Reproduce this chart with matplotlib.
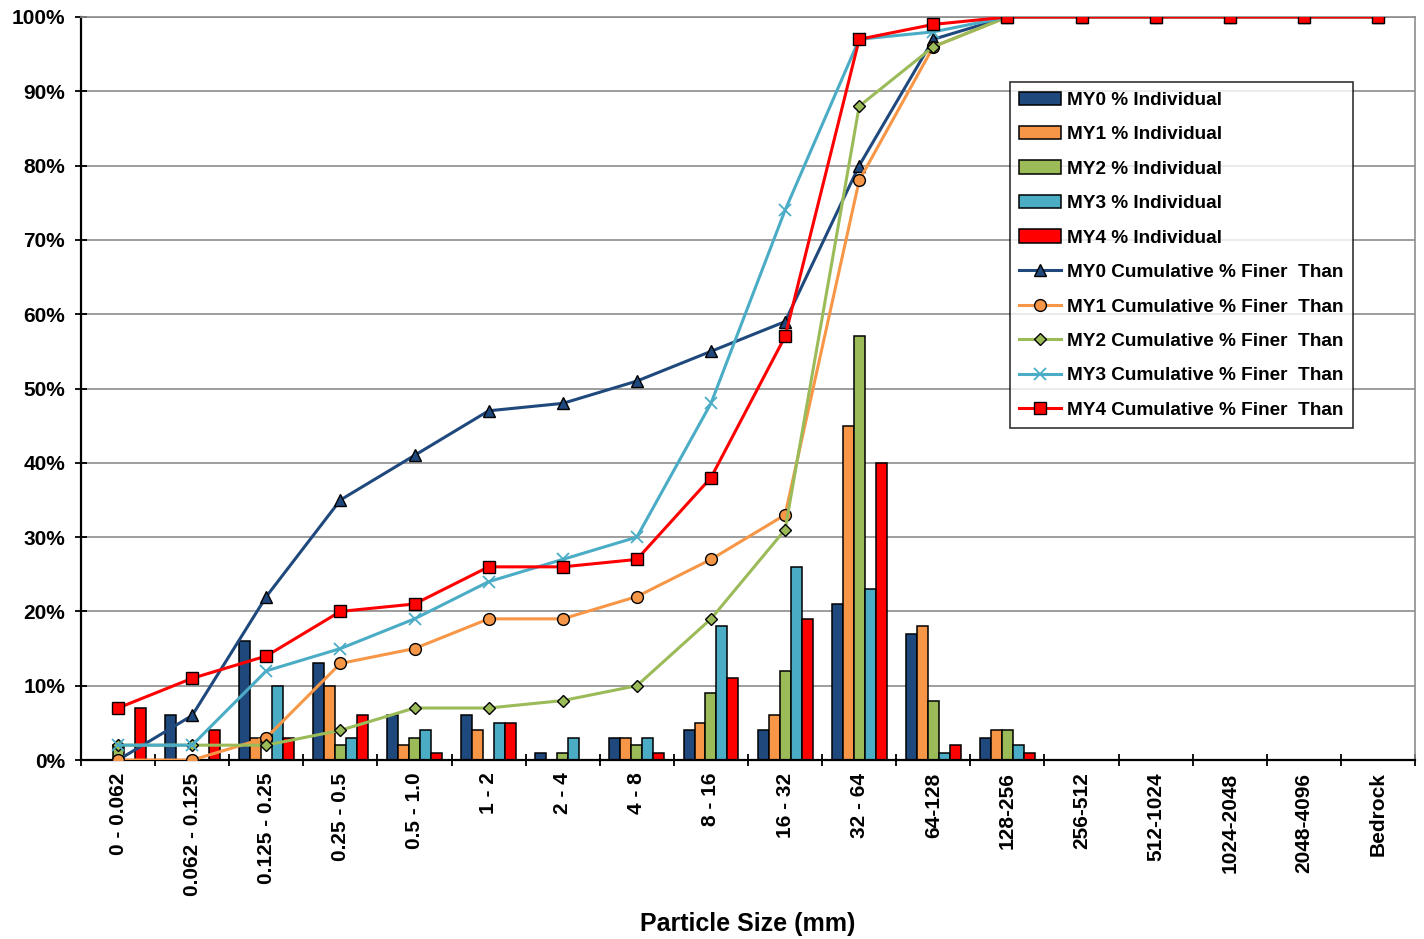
import matplotlib
matplotlib.use("Agg")
import matplotlib.pyplot as plt
import numpy as np
from matplotlib.ticker import FuncFormatter

plt.rcParams['font.family'] = ['Liberation Sans', 'DejaVu Sans']
plt.rcParams['font.weight'] = 'bold'

sizes = ["0 - 0.062", "0.062 - 0.125", "0.125 - 0.25", "0.25 - 0.5", "0.5 - 1.0",
         "1 - 2", "2 - 4", "4 - 8", "8 - 16", "16 - 32", "32 - 64", "64-128",
         "128-256", "256-512", "512-1024", "1024-2048", "2048-4096", "Bedrock"]

# % individual per size class
my0_ind = [0, 6, 16, 13, 6, 6, 1, 3, 4, 4, 21, 17, 3, 0, 0, 0, 0, 0]
my1_ind = [0, 0, 3, 10, 2, 4, 0, 3, 5, 6, 45, 18, 4, 0, 0, 0, 0, 0]
my2_ind = [2, 0, 0, 2, 3, 0, 1, 2, 9, 12, 57, 8, 4, 0, 0, 0, 0, 0]
my3_ind = [0, 0, 10, 3, 4, 5, 3, 3, 18, 26, 23, 1, 2, 0, 0, 0, 0, 0]
my4_ind = [7, 4, 3, 6, 1, 5, 0, 1, 11, 19, 40, 2, 1, 0, 0, 0, 0, 0]

# cumulative % finer than
my0_cum = [0, 6, 22, 35, 41, 47, 48, 51, 55, 59, 80, 97, 100, 100, 100, 100, 100, 100]
my1_cum = [0, 0, 3, 13, 15, 19, 19, 22, 27, 33, 78, 96, 100, 100, 100, 100, 100, 100]
my2_cum = [2, 2, 2, 4, 7, 7, 8, 10, 19, 31, 88, 96, 100, 100, 100, 100, 100, 100]
my3_cum = [2, 2, 12, 15, 19, 24, 27, 30, 48, 74, 97, 98, 100, 100, 100, 100, 100, 100]
my4_cum = [7, 11, 14, 20, 21, 26, 26, 27, 38, 57, 97, 99, 100, 100, 100, 100, 100, 100]

names = ["MY0", "MY1", "MY2", "MY3", "MY4"]
colors = ["#1F497D", "#F79646", "#9BBB59", "#4BACC6", "#FF0000"]
individual = [my0_ind, my1_ind, my2_ind, my3_ind, my4_ind]
cumulative = [my0_cum, my1_cum, my2_cum, my3_cum, my4_cum]
markers = [
    dict(marker="^", ms=9, mec="black", mew=1),
    dict(marker="o", ms=8.5, mec="black", mew=1),
    dict(marker="D", ms=6, mec="black", mew=1),
    dict(marker="x", ms=8, mew=1.3),
    dict(marker="s", ms=8, mec="black", mew=1),
]

fig = plt.figure(figsize=(14.24, 9.39), dpi=100)
ax = fig.add_subplot(111)
fig.subplots_adjust(left=0.0569, right=0.9937, top=0.9819, bottom=0.1906)

x = np.arange(len(sizes))
w = 0.148
handles = []
for i in range(5):
    b = ax.bar(x + (i - 2) * w, individual[i], w, color=colors[i], edgecolor="black",
               linewidth=1.1, label=names[i] + " % Individual", zorder=2)
    handles.append(b)

for i in range(5):
    ln, = ax.plot(x, cumulative[i], color=colors[i], lw=2.2, zorder=3,
                  label=names[i] + " Cumulative % Finer  Than", **markers[i])
    handles.append(ln)

ax.set_xlim(-0.5, len(sizes) - 0.5)
ax.set_ylim(0, 100)
ax.set_yticks(np.arange(0, 101, 10))
ax.yaxis.set_major_formatter(FuncFormatter(lambda v, p: "%d%%" % v))
ax.yaxis.grid(True, color="#8C8C8C", lw=1.2, zorder=0)
ax.set_axisbelow(True)

ax.set_xticks(x)
ax.set_xticklabels(sizes, rotation=90, fontsize=15, fontweight="bold")
ax.set_xticks(np.arange(-0.5, len(sizes), 1), minor=True)
ax.tick_params(axis="x", which="major", length=0, pad=9)
ax.tick_params(axis="x", which="minor", direction="inout", length=9, width=1.3)
ax.tick_params(axis="y", direction="inout", length=9, width=1.3, labelsize=15, pad=7)
for lab in ax.get_yticklabels():
    lab.set_fontweight("bold")

for s in ["left", "bottom"]:
    ax.spines[s].set_color("black")
    ax.spines[s].set_linewidth(1.6)
for s in ["top", "right"]:
    ax.spines[s].set_color("#8C8C8C")
    ax.spines[s].set_linewidth(1.2)

ax.set_xlabel("Particle Size (mm)", fontsize=18, fontweight="bold", labelpad=12)

leg = ax.legend(handles=handles, loc="upper right", bbox_to_anchor=(0.9535, 0.9125),
                borderaxespad=0, frameon=True, fancybox=False, edgecolor="black",
                handlelength=2.2, handletextpad=0.3, labelspacing=0.9,
                borderpad=0.5, prop={"weight": "bold", "size": 13.7})
leg.get_frame().set_linewidth(1.2)

fig.savefig("out.png", dpi=100)
